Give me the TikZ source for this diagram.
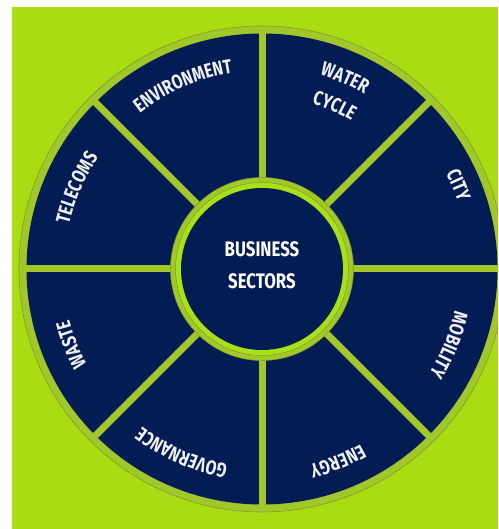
\documentclass[tikz,border=0pt]{standalone}
\usepackage{fontspec}
\usetikzlibrary{decorations.text,calc}
\newfontfamily\labfont{Fira Sans}[FakeStretch=0.78]
\newfontfamily\cenfont{Fira Sans}[FakeStretch=0.8]
\definecolor{navy}{HTML}{031D54}
\definecolor{bggreen}{HTML}{AADC14}
\definecolor{ringgreen}{HTML}{A2C72A}
\definecolor{brightgreen}{HTML}{A8E01A}
\definecolor{ringline}{HTML}{7F9E22}
\definecolor{labcol}{HTML}{EEF0F4}
\tikzset{
  lab/.style={decorate, decoration={text along path,
      text={|\labfont\bfseries\fontsize{20}{20}\selectfont|#1},
      text align=center, text color=labcol}},
  divider/.style={draw=ringgreen, line width=7pt}
}
\begin{document}
\begin{tikzpicture}[x=1pt,y=1pt]
\useasboundingbox (0,0) rectangle (498,529);
\fill[white] (0,0) rectangle (498,529);
\fill[bggreen] (12,0) rectangle (498,522);
\coordinate (C) at (262,260);
\begin{scope}
\clip (12,0) rectangle (498,522);
\fill[ringgreen] (C) circle (243);
\draw[ringline, line width=0.6pt] (C) circle (243);
\fill[navy] (C) circle (235.5);
\foreach \a in {0,45,...,315}
  \draw[divider] ($(C)+(\a:88)$) -- ($(C)+(\a:237)$);
\fill[ringgreen] (C) circle (91.5);
\draw[ringline, line width=0.5pt] (C) circle (91.5);
\fill[brightgreen] (C) circle (86.5);
\draw[ringline, line width=0.5pt] (C) circle (86.5);
\fill[navy] (C) circle (81);
\end{scope}
\node[text=white, align=center, font=\cenfont\bfseries\fontsize{21}{32}\selectfont] (center) at (262,264) {BUSINESS\\SECTORS};
% labels
\path[lab=ENVIRONMENT] ($(C)+(153.3:198)$) arc[start angle=153.3, end angle=73.3, radius=198];
\path[lab=TELECOMS] ($(C)+(196.3:198)$) arc[start angle=196.3, end angle=116.3, radius=198];
\path[lab=WATER] ($(C)+(106.5:202.5)$) arc[start angle=106.5, end angle=26.5, radius=202.5];
\path[lab=CYCLE] ($(C)+(106.1:173)$) arc[start angle=106.1, end angle=26.1, radius=173];
\path[lab=CITY] ($(C)+(63.1:207)$) arc[start angle=63.1, end angle=-16.9, radius=207];
\path[lab=MOBILITY] ($(C)+(17.9:197)$) arc[start angle=17.9, end angle=-62.1, radius=197];
\path[lab=ENERGY] ($(C)+(-28.5:201)$) arc[start angle=-28.5, end angle=-108.5, radius=201];
\path[lab=GOVERNANCE] ($(C)+(-73.6:198)$) arc[start angle=-73.6, end angle=-153.6, radius=198];
\path[lab=WASTE] ($(C)+(-118.4:199.5)$) arc[start angle=-118.4, end angle=-198.4, radius=199.5];
\end{tikzpicture}
\end{document}
